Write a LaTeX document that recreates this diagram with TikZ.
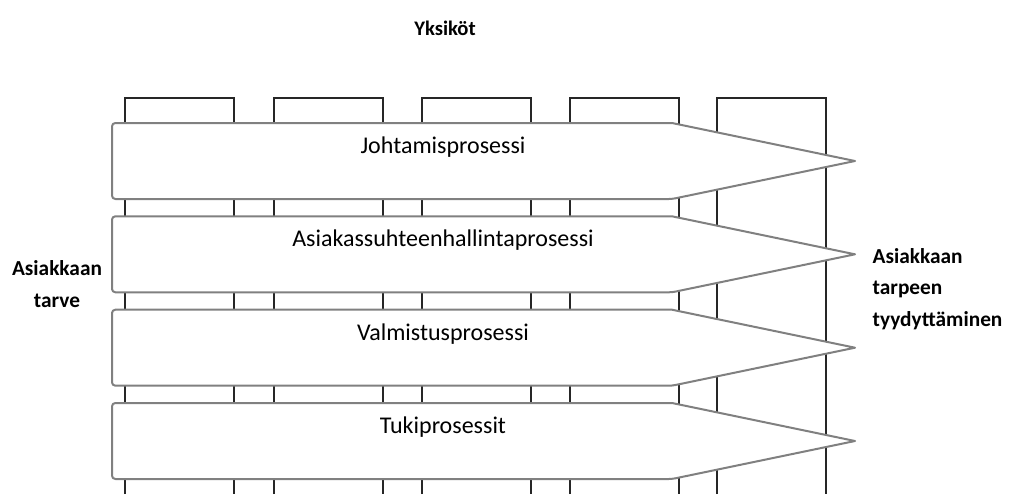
\documentclass[tikz,border=0pt]{standalone}
\usepackage{fontspec}
\setmainfont{Carlito}
\usetikzlibrary{positioning}
\tikzstyle{unit} = [draw=black!85, line width=0.9pt]
\tikzstyle{process} = [draw=black!50, line width=1.5pt, fill=white, line join=round]
\tikzstyle{proclabel} = [anchor=base, text=black, font=\fontsize{18}{21}\selectfont]
\tikzstyle{sidelabel} = [text=black, font=\bfseries\fontsize{16}{23.5}\selectfont]
\tikzstyle{heading} = [anchor=base, text=black, font=\bfseries\fontsize{15.5}{18}\selectfont]

\begin{document}
\begin{tikzpicture}[x=0.75pt, y=-0.75pt]
\useasboundingbox (0,0) rectangle (1014,494);
\node (title) [heading] at (445,35) {Yksiköt};
% units
\foreach \xa in {125,274,422,570,717}
  \draw [unit] (\xa,494) |- (\xa+109,98) -- (\xa+109,494);
% processes
\foreach \i/\yt/\txt in {1/123/Johtamisprosessi, 2/216.3/Asiakassuhteenhallintaprosessi, 3/309.7/Valmistusprosessi, 4/403/Tukiprosessit} {
  \draw [process] (855,\yt+38) -- (672,\yt) [rounded corners=2.5pt] -- (112,\yt) -- (112,\yt+76) -- (672,\yt+76) [sharp corners] -- cycle;
  \node (proc\i) [proclabel] at (443,\yt+30.5) {\txt};
}
\node (need) [sidelabel, align=center] at (57,284) {Asiakkaan\\tarve};
\node (fulfil) [sidelabel, align=left, anchor=west] at (868,289) {Asiakkaan\\tarpeen\\tyydyttäminen};
\end{tikzpicture}
\end{document}
